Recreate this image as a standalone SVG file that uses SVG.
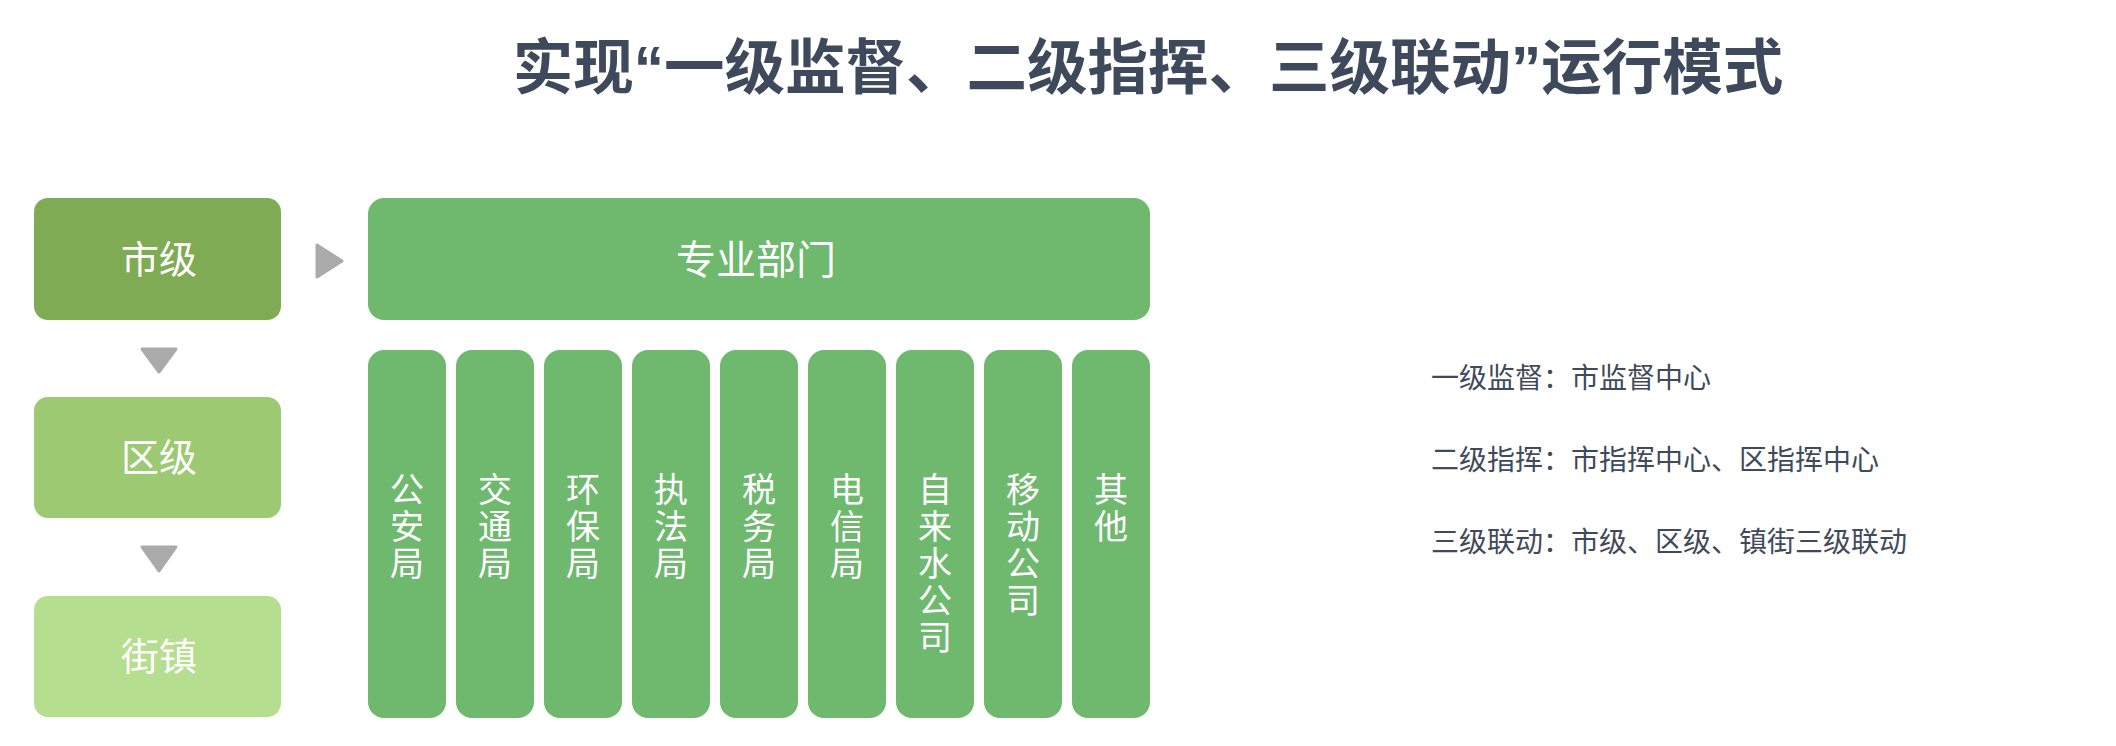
<svg xmlns="http://www.w3.org/2000/svg" width="2116" height="746" viewBox="0 0 2116 746">
  <style>
    .cjk { font-family: "Liberation Sans", "Noto Sans CJK SC", sans-serif; }
    .title { font-size: 60.5px; font-weight: bold; fill: #3e4a5b; }
    .lvl { font-size: 38px; fill: #ffffff; text-anchor: middle; }
    .dept { font-size: 40px; fill: #ffffff; text-anchor: middle; }
    .col { font-size: 34px; fill: #ffffff; text-anchor: middle; }
    .note { font-size: 28px; fill: #3f4a5a; }
    .green { fill: #6fb96f; }
    .tri { fill: #aaaaaa; stroke: #aaaaaa; stroke-width: 3; stroke-linejoin: round; }
  </style>
  <rect width="2116" height="746" fill="#ffffff"/>

  <g id="title">
    <text class="cjk title" x="1148" y="89" text-anchor="middle">实现“一级监督、二级指挥、三级联动”运行模式</text>
  </g>

  <g id="city">
    <rect x="34" y="198" width="247" height="122" rx="14" fill="#7fab55"/>
    <text class="cjk lvl" x="159" y="273">市级</text>
  </g>
  <g id="district">
    <rect x="34" y="397" width="247" height="121" rx="14" fill="#9dc973"/>
    <text class="cjk lvl" x="159" y="471">区级</text>
  </g>
  <g id="street">
    <rect x="34" y="596" width="247" height="121" rx="14" fill="#b5de8e"/>
    <text class="cjk lvl" x="159" y="670">街镇</text>
  </g>

  <g id="dept">
    <rect class="green" x="368" y="198" width="782" height="122" rx="16"/>
    <text class="cjk dept" x="756" y="274">专业部门</text>
  </g>

  <g id="columns">
    <g id="c1"><rect class="green" x="368" y="350" width="78" height="368" rx="16"/>
      <text class="cjk col" x="407" y="502">公</text><text class="cjk col" x="407" y="539">安</text><text class="cjk col" x="407" y="576">局</text></g>
    <g id="c2"><rect class="green" x="456" y="350" width="78" height="368" rx="16"/>
      <text class="cjk col" x="495" y="502">交</text><text class="cjk col" x="495" y="539">通</text><text class="cjk col" x="495" y="576">局</text></g>
    <g id="c3"><rect class="green" x="544" y="350" width="78" height="368" rx="16"/>
      <text class="cjk col" x="583" y="502">环</text><text class="cjk col" x="583" y="539">保</text><text class="cjk col" x="583" y="576">局</text></g>
    <g id="c4"><rect class="green" x="632" y="350" width="78" height="368" rx="16"/>
      <text class="cjk col" x="671" y="502">执</text><text class="cjk col" x="671" y="539">法</text><text class="cjk col" x="671" y="576">局</text></g>
    <g id="c5"><rect class="green" x="720" y="350" width="78" height="368" rx="16"/>
      <text class="cjk col" x="759" y="502">税</text><text class="cjk col" x="759" y="539">务</text><text class="cjk col" x="759" y="576">局</text></g>
    <g id="c6"><rect class="green" x="808" y="350" width="78" height="368" rx="16"/>
      <text class="cjk col" x="847" y="502">电</text><text class="cjk col" x="847" y="539">信</text><text class="cjk col" x="847" y="576">局</text></g>
    <g id="c7"><rect class="green" x="896" y="350" width="78" height="368" rx="16"/>
      <text class="cjk col" x="935" y="502">自</text><text class="cjk col" x="935" y="539">来</text><text class="cjk col" x="935" y="576">水</text><text class="cjk col" x="935" y="613">公</text><text class="cjk col" x="935" y="650">司</text></g>
    <g id="c8"><rect class="green" x="984" y="350" width="78" height="368" rx="16"/>
      <text class="cjk col" x="1023" y="502">移</text><text class="cjk col" x="1023" y="539">动</text><text class="cjk col" x="1023" y="576">公</text><text class="cjk col" x="1023" y="613">司</text></g>
    <g id="c9"><rect class="green" x="1072" y="350" width="78" height="368" rx="16"/>
      <text class="cjk col" x="1111" y="502">其</text><text class="cjk col" x="1111" y="539">他</text></g>
  </g>

  <g id="connectors">
    <polygon class="tri" points="317,245 342,261 317,277"/>
    <polygon class="tri" points="142,349 176,349 159,372"/>
    <polygon class="tri" points="142,547 176,547 159,571"/>
  </g>

  <g id="notes">
    <text class="cjk note" x="1431" y="388">一级监督：市监督中心</text>
    <text class="cjk note" x="1431" y="470">二级指挥：市指挥中心、区指挥中心</text>
    <text class="cjk note" x="1431" y="552">三级联动：市级、区级、镇街三级联动</text>
  </g>
</svg>
